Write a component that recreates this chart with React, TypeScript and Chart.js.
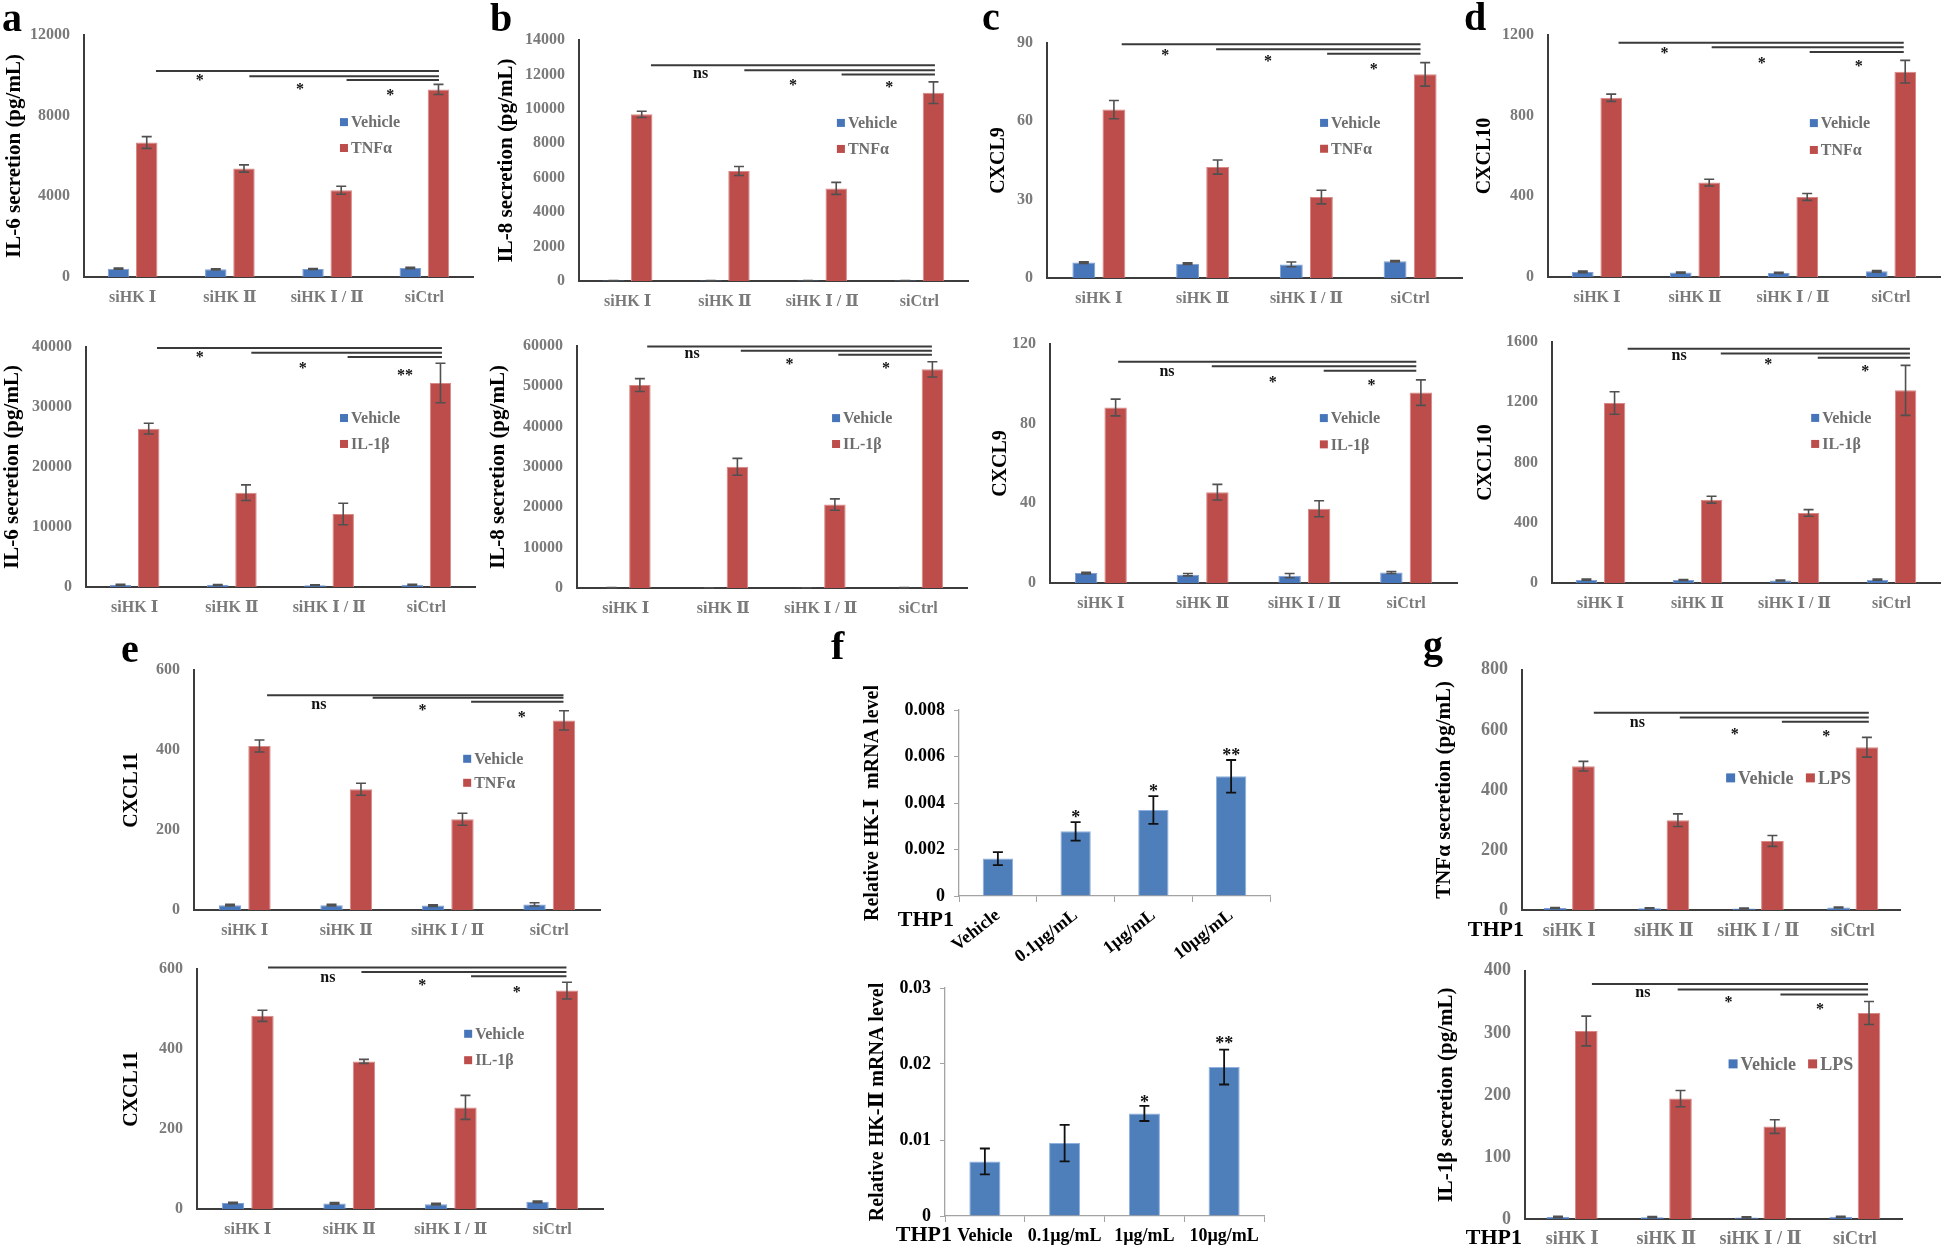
import React, { useEffect, useRef } from "react";
import { Chart, registerables } from "chart.js";

Chart.register(...registerables);

const SERIF = "'Liberation Serif', 'Times New Roman', 'DejaVu Serif', 'Noto Sans CJK SC', serif";

// ---------- categories ----------
const siGroups = ["siHK Ⅰ", "siHK Ⅱ", "siHK Ⅰ / Ⅱ", "siCtrl"];
const doseGroups = ["Vehicle", "0.1µg/mL", "1µg/mL", "10µg/mL"];
const vehicleName = "Vehicle";
const tnfName = "TNFα";
const il1bName = "IL-1β";
const lpsName = "LPS";

// ---------- a: IL-6 ----------
const il6TnfTicks = [0, 4000, 8000, 12000];
const il6TnfVehicle = [414, 380, 397, 447];
const il6TnfVehicleErr = [30, 25, 25, 30];
const il6TnfTreated = [6670, 5380, 4300, 9300];
const il6TnfTreatedErr = [290, 180, 200, 250];
const il6TnfSigLines = [[0.24, 3.15, 10210], [1.2, 3.15, 9960], [2.2, 3.15, 9770]];
const il6TnfSigMarks = [["*", 0.69, 9930], ["*", 1.72, 9520], ["*", 2.65, 9190]];

const il6Il1Ticks = [0, 10000, 20000, 30000, 40000];
const il6Il1Vehicle = [350, 330, 300, 380];
const il6Il1VehicleErr = [80, 60, 60, 80];
const il6Il1Treated = [26390, 15720, 12170, 34000];
const il6Il1TreatedErr = [900, 1300, 1800, 3300];
const il6Il1SigLines = [[0.23, 3.16, 39830], [1.2, 3.16, 39060], [2.19, 3.16, 38330]];
const il6Il1SigMarks = [["*", 0.67, 38890], ["*", 1.73, 37060], ["**", 2.78, 35940]];

// ---------- b: IL-8 ----------
const il8TnfTicks = [0, 2000, 4000, 6000, 8000, 10000, 12000, 14000];
const il8TnfVehicle = [25, 25, 25, 25];
const il8TnfVehicleErr = [5, 5, 5, 5];
const il8TnfTreated = [9680, 6390, 5380, 10940];
const il8TnfTreatedErr = [180, 260, 350, 630];
const il8TnfSigLines = [[0.24, 3.16, 12530], [1.2, 3.16, 12240], [2.2, 3.16, 11990]];
const il8TnfSigMarks = [["ns", 0.75, 12020], ["*", 1.7, 11580], ["*", 2.69, 11480]];

const il8Il1Ticks = [0, 10000, 20000, 30000, 40000, 50000, 60000];
const il8Il1Vehicle = [80, 70, 60, 80];
const il8Il1VehicleErr = [10, 10, 10, 10];
const il8Il1Treated = [50320, 30040, 20690, 54210];
const il8Il1TreatedErr = [1600, 2100, 1400, 1900];
const il8Il1SigLines = [[0.22, 3.14, 59900], [1.18, 3.14, 58840], [2.18, 3.14, 57850]];
const il8Il1SigMarks = [["ns", 0.68, 58000], ["*", 1.68, 56520], ["*", 2.67, 55450]];

// ---------- c: CXCL9 ----------
const cxcl9TnfTicks = [0, 30, 60, 90];
const cxcl9TnfVehicle = [5.9, 5.5, 5.2, 6.4];
const cxcl9TnfVehicleErr = [0.3, 0.3, 0.9, 0.3];
const cxcl9TnfTreated = [64.5, 42.5, 31.0, 78.0];
const cxcl9TnfTreatedErr = [3.5, 2.7, 2.6, 4.5];
const cxcl9TnfSigLines = [[0.22, 3.1, 89.5], [1.13, 3.1, 87.6], [2.2, 3.1, 85.9]];
const cxcl9TnfSigMarks = [["*", 0.64, 86.6], ["*", 1.63, 84.4], ["*", 2.65, 81.4]];

const cxcl9Il1Ticks = [0, 40, 80, 120];
const cxcl9Il1Vehicle = [5.0, 4.2, 3.7, 5.3];
const cxcl9Il1VehicleErr = [0.4, 0.6, 1.1, 0.5];
const cxcl9Il1Treated = [88.1, 45.6, 37.3, 95.6];
const cxcl9Il1TreatedErr = [4.2, 3.9, 4.0, 6.4];
const cxcl9Il1SigLines = [[0.17, 3.1, 111.1], [1.09, 3.1, 108.8], [2.19, 3.1, 106.6]];
const cxcl9Il1SigMarks = [["ns", 0.65, 106.2], ["*", 1.69, 102.8], ["*", 2.66, 101.4]];

// ---------- d: CXCL10 ----------
const cxcl10TnfTicks = [0, 400, 800, 1200];
const cxcl10TnfVehicle = [25, 22, 20, 28];
const cxcl10TnfVehicleErr = [4, 3, 3, 4];
const cxcl10TnfTreated = [889, 468, 397, 1018];
const cxcl10TnfTreatedErr = [18, 17, 17, 56];
const cxcl10TnfSigLines = [[0.22, 3.13, 1162], [1.17, 3.13, 1139], [2.17, 3.13, 1116]];
const cxcl10TnfSigMarks = [["*", 0.69, 1129], ["*", 1.68, 1079], ["*", 2.67, 1064]];

const cxcl10Il1Ticks = [0, 400, 800, 1200, 1600];
const cxcl10Il1Vehicle = [22, 20, 16, 22];
const cxcl10Il1VehicleErr = [4, 3, 3, 4];
const cxcl10Il1Treated = [1195, 553, 465, 1279];
const cxcl10Il1TreatedErr = [75, 23, 22, 166];
const cxcl10Il1SigLines = [[0.28, 3.19, 1556], [1.24, 3.19, 1524], [2.24, 3.19, 1496]];
const cxcl10Il1SigMarks = [["ns", 0.81, 1511], ["*", 1.73, 1478], ["*", 2.73, 1434]];

// ---------- e: CXCL11 ----------
const cxcl11TnfTicks = [0, 200, 400, 600];
const cxcl11TnfVehicle = [12, 12, 11, 14];
const cxcl11TnfVehicleErr = [2, 2, 2, 4];
const cxcl11TnfTreated = [410, 302, 227, 474];
const cxcl11TnfTreatedErr = [15, 15, 15, 24];
const cxcl11TnfSigLines = [[0.22, 3.14, 536.7], [1.26, 3.14, 530.8], [2.23, 3.14, 520.8]];
const cxcl11TnfSigMarks = [["ns", 0.73, 512], ["*", 1.75, 508], ["*", 2.73, 492]];

const cxcl11Il1Ticks = [0, 200, 400, 600];
const cxcl11Il1Vehicle = [15, 14, 12, 18];
const cxcl11Il1VehicleErr = [2, 2, 2, 2];
const cxcl11Il1Treated = [483, 369, 254, 546];
const cxcl11Il1TreatedErr = [14, 5, 30, 21];
const cxcl11Il1SigLines = [[0.2, 3.14, 604], [1.12, 3.14, 592.5], [2.2, 3.14, 581.7]];
const cxcl11Il1SigMarks = [["ns", 0.79, 579], ["*", 1.72, 569], ["*", 2.65, 552]];

// ---------- f: HK mRNA ----------
const hk1Ticks = [0, 0.002, 0.004, 0.006, 0.008];
const hk1Level = [0.00161, 0.00278, 0.0037, 0.00515];
const hk1Err = [0.00028, 0.0004, 0.0006, 0.0007];
const hk1SigMarks = [["*", 1, 0.00356], ["*", 2, 0.00469], ["**", 3, 0.00621]];

const hk2Ticks = [0, 0.01, 0.02, 0.03];
const hk2Level = [0.00718, 0.0096, 0.0135, 0.0196];
const hk2Err = [0.0017, 0.0024, 0.001, 0.0023];
const hk2SigMarks = [["*", 2, 0.0155], ["**", 3, 0.0232]];

// ---------- g: THP1 LPS ----------
const tnfLpsTicks = [0, 200, 400, 600, 800];
const tnfLpsVehicle = [6.5, 6, 5, 8];
const tnfLpsVehicleErr = [1.5, 1.5, 1.5, 1.5];
const tnfLpsTreated = [479, 299, 230, 542];
const tnfLpsTreatedErr = [16, 21, 18, 33];
const tnfLpsSigLines = [[0.26, 3.17, 657], [1.17, 3.17, 641], [2.25, 3.17, 627]];
const tnfLpsSigMarks = [["ns", 0.72, 622], ["*", 1.75, 598], ["*", 2.72, 592]];

const il1LpsTicks = [0, 100, 200, 300, 400];
const il1LpsVehicle = [3.2, 3, 2.5, 3.5];
const il1LpsVehicleErr = [1, 1, 1, 1];
const il1LpsTreated = [303, 194, 149, 332];
const il1LpsTreatedErr = [24, 13, 11, 18.5];
const il1LpsSigLines = [[0.21, 3.14, 378.6], [1.12, 3.14, 370], [2.21, 3.14, 362]];
const il1LpsSigMarks = [["ns", 0.75, 364], ["*", 1.66, 356], ["*", 2.63, 344]];

// ---------- styles ----------
const BLUE = "#4775b9";
const BLUE_EDGE = "#7d9fd3";
const RED = "#bd4d4a";
const RED_EDGE = "#d98886";
const F_BLUE = "#4f7fbb";
const F_BLUE_EDGE = "#8fb1dd";

interface DS { label: string; data: number[]; err: number[]; fill: string; edge: string; }
interface PanelCfg {
  key: string;
  area: number[];
  titleX: number;
  title: string;
  titleSize: number;
  labels: string[];
  datasets: DS[];
  ticks: number[];
  lines: any[];
  marks: any[];
  legend: number[][];
  style: "excel" | "plain";
  fontSize: number;
  markSize: number;
  bottom: number;
  labelPad: number;
  rotate?: number;
  thp1?: number[];
  catPct: number;
  barPct: number;
}

const pair = (treat: string, veh: number[], vehErr: number[], trt: number[], trtErr: number[]): DS[] => [
  { label: vehicleName, data: veh, err: vehErr, fill: BLUE, edge: BLUE_EDGE },
  { label: treat, data: trt, err: trtErr, fill: RED, edge: RED_EDGE },
];

const excelBase = { style: "excel" as const, fontSize: 16, markSize: 16, bottom: 40, labelPad: 11, catPct: 0.58, barPct: 0.76, titleSize: 21 };

const panels: PanelCfg[] = [
  { ...excelBase, key: "a1", area: [84, 35, 473, 277], titleX: 15, title: "IL-6 secretion (pg/mL)", labels: siGroups,
    datasets: pair(tnfName, il6TnfVehicle, il6TnfVehicleErr, il6TnfTreated, il6TnfTreatedErr), ticks: il6TnfTicks,
    lines: il6TnfSigLines, marks: il6TnfSigMarks, legend: [[0.658, 0.36], [0.658, 0.467]] },
  { ...excelBase, key: "a2", area: [86, 347, 475, 587], titleX: 13, title: "IL-6 secretion (pg/mL)", labels: siGroups,
    datasets: pair(il1bName, il6Il1Vehicle, il6Il1VehicleErr, il6Il1Treated, il6Il1TreatedErr), ticks: il6Il1Ticks,
    lines: il6Il1SigLines, marks: il6Il1SigMarks, legend: [[0.653, 0.296], [0.653, 0.404]] },
  { ...excelBase, key: "b1", area: [579, 40, 968, 281], titleX: 507, title: "IL-8 secretion (pg/mL)", labels: siGroups,
    datasets: pair(tnfName, il8TnfVehicle, il8TnfVehicleErr, il8TnfTreated, il8TnfTreatedErr), ticks: il8TnfTicks,
    lines: il8TnfSigLines, marks: il8TnfSigMarks, legend: [[0.663, 0.344], [0.663, 0.452]] },
  { ...excelBase, key: "b2", area: [577, 346, 967, 588], titleX: 499, title: "IL-8 secretion (pg/mL)", labels: siGroups,
    datasets: pair(il1bName, il8Il1Vehicle, il8Il1VehicleErr, il8Il1Treated, il8Il1TreatedErr), ticks: il8Il1Ticks,
    lines: il8Il1SigLines, marks: il8Il1SigMarks, legend: [[0.654, 0.298], [0.654, 0.405]] },
  { ...excelBase, key: "c1", area: [1047, 43, 1462, 278], titleX: 999, titleSize: 20, title: "CXCL9", labels: siGroups,
    datasets: pair(tnfName, cxcl9TnfVehicle, cxcl9TnfVehicleErr, cxcl9TnfTreated, cxcl9TnfTreatedErr), ticks: cxcl9TnfTicks,
    lines: cxcl9TnfSigLines, marks: cxcl9TnfSigMarks, legend: [[0.658, 0.34], [0.658, 0.45]] },
  { ...excelBase, key: "c2", area: [1050, 344, 1457, 583], titleX: 1001, titleSize: 20, title: "CXCL9", labels: siGroups,
    datasets: pair(il1bName, cxcl9Il1Vehicle, cxcl9Il1VehicleErr, cxcl9Il1Treated, cxcl9Il1TreatedErr), ticks: cxcl9Il1Ticks,
    lines: cxcl9Il1SigLines, marks: cxcl9Il1SigMarks, legend: [[0.663, 0.31], [0.663, 0.42]] },
  { ...excelBase, key: "d1", area: [1548, 35, 1940, 277], titleX: 1485, titleSize: 20, title: "CXCL10", labels: siGroups,
    datasets: pair(tnfName, cxcl10TnfVehicle, cxcl10TnfVehicleErr, cxcl10TnfTreated, cxcl10TnfTreatedErr), ticks: cxcl10TnfTicks,
    lines: cxcl10TnfSigLines, marks: cxcl10TnfSigMarks, legend: [[0.668, 0.364], [0.668, 0.475]] },
  { ...excelBase, key: "d2", area: [1552, 342, 1940, 583], titleX: 1486, titleSize: 20, title: "CXCL10", labels: siGroups,
    datasets: pair(il1bName, cxcl10Il1Vehicle, cxcl10Il1VehicleErr, cxcl10Il1Treated, cxcl10Il1TreatedErr), ticks: cxcl10Il1Ticks,
    lines: cxcl10Il1SigLines, marks: cxcl10Il1SigMarks, legend: [[0.668, 0.315], [0.668, 0.423]] },
  { ...excelBase, key: "e1", area: [194, 670, 600, 910], titleX: 132, titleSize: 20, title: "CXCL11", labels: siGroups,
    datasets: pair(tnfName, cxcl11TnfVehicle, cxcl11TnfVehicleErr, cxcl11TnfTreated, cxcl11TnfTreatedErr), ticks: cxcl11TnfTicks,
    lines: cxcl11TnfSigLines, marks: cxcl11TnfSigMarks, legend: [[0.663, 0.37], [0.663, 0.47]] },
  { ...excelBase, key: "e2", area: [197, 969, 603, 1209], titleX: 132, titleSize: 20, title: "CXCL11", labels: siGroups,
    datasets: pair(il1bName, cxcl11Il1Vehicle, cxcl11Il1VehicleErr, cxcl11Il1Treated, cxcl11Il1TreatedErr), ticks: cxcl11Il1Ticks,
    lines: cxcl11Il1SigLines, marks: cxcl11Il1SigMarks, legend: [[0.658, 0.27], [0.658, 0.38]] },
  { style: "plain", fontSize: 18, markSize: 18, bottom: 80, labelPad: 3, catPct: 0.5, barPct: 0.78, titleSize: 20, rotate: 38,
    key: "f1", area: [959, 710, 1270, 896], titleX: 873, title: "Relative HK-Ⅰ  mRNA level", labels: doseGroups,
    datasets: [{ label: vehicleName, data: hk1Level, err: hk1Err, fill: F_BLUE, edge: F_BLUE_EDGE }], ticks: hk1Ticks,
    lines: [], marks: hk1SigMarks, legend: [], thp1: [-5, 24] },
  { style: "plain", fontSize: 18, markSize: 18, bottom: 36, labelPad: 4, catPct: 0.5, barPct: 0.78, titleSize: 20,
    key: "f2", area: [945, 988, 1264, 1216], titleX: 878, title: "Relative HK-Ⅱ mRNA level", labels: doseGroups,
    datasets: [{ label: vehicleName, data: hk2Level, err: hk2Err, fill: F_BLUE, edge: F_BLUE_EDGE }], ticks: hk2Ticks,
    lines: [], marks: hk2SigMarks, legend: [], thp1: [7, 19] },
  { ...excelBase, fontSize: 18, bottom: 40, labelPad: 11, catPct: 0.6, barPct: 0.8, titleSize: 21,
    key: "g1", area: [1522, 669, 1900, 910], titleX: 1445, title: "TNFα secretion (pg/mL)", labels: siGroups,
    datasets: pair(lpsName, tnfLpsVehicle, tnfLpsVehicleErr, tnfLpsTreated, tnfLpsTreatedErr), ticks: tnfLpsTicks,
    lines: tnfLpsSigLines, marks: tnfLpsSigMarks, legend: [[0.54, 0.45], [0.751, 0.45]], thp1: [2, 20] },
  { ...excelBase, fontSize: 18, bottom: 40, labelPad: 10, catPct: 0.6, barPct: 0.8, titleSize: 21,
    key: "g2", area: [1525, 970, 1902, 1219], titleX: 1447, title: "IL-1β secretion (pg/mL)", labels: siGroups,
    datasets: pair(lpsName, il1LpsVehicle, il1LpsVehicleErr, il1LpsTreated, il1LpsTreatedErr), ticks: il1LpsTicks,
    lines: il1LpsSigLines, marks: il1LpsSigMarks, legend: [[0.54, 0.375], [0.751, 0.375]], thp1: [-3, 19] },
];

const letters: [string, number, number][] = [
  ["a", 2, 32], ["b", 490, 32], ["c", 982, 31], ["d", 1464, 31],
  ["e", 121, 663], ["f", 831, 660], ["g", 1423, 659],
];

function makeExtras(cfg: PanelCfg) {
  return {
    id: "extras_" + cfg.key,
    afterDatasetsDraw(chart: any) {
      const ctx = chart.ctx as CanvasRenderingContext2D;
      const xs = chart.scales.x;
      const ys = chart.scales.y;
      const area = chart.chartArea;
      const excel = cfg.style === "excel";
      ctx.save();
      // error bars
      chart.data.datasets.forEach((ds: any, di: number) => {
        const meta = chart.getDatasetMeta(di);
        const err = cfg.datasets[di].err;
        meta.data.forEach((el: any, i: number) => {
          const v = ds.data[i];
          const e = err[i];
          const y1 = ys.getPixelForValue(v + e);
          const y2 = ys.getPixelForValue(Math.max(0, v - e));
          const cap = 5;
          ctx.strokeStyle = excel ? "#505050" : "#111";
          ctx.lineWidth = excel ? 1.6 : 1.8;
          ctx.beginPath();
          ctx.moveTo(el.x, y1); ctx.lineTo(el.x, y2);
          ctx.moveTo(el.x - cap, y1); ctx.lineTo(el.x + cap, y1);
          ctx.moveTo(el.x - cap, y2); ctx.lineTo(el.x + cap, y2);
          ctx.stroke();
        });
      });
      // significance lines
      ctx.strokeStyle = "#3a3a3a";
      ctx.lineWidth = 2;
      cfg.lines.forEach((ln: number[]) => {
        const y = ys.getPixelForValue(ln[2]);
        ctx.beginPath();
        ctx.moveTo(xs.getPixelForValue(ln[0]), y);
        ctx.lineTo(xs.getPixelForValue(ln[1]), y);
        ctx.stroke();
      });
      // significance marks
      ctx.fillStyle = "#111";
      ctx.textAlign = "center";
      ctx.textBaseline = "middle";
      cfg.marks.forEach((m: any[]) => {
        const t = String(m[0]);
        const star = t.includes("*");
        ctx.font = `bold ${cfg.markSize}px ${SERIF}`;
        ctx.fillText(t, xs.getPixelForValue(m[1]), ys.getPixelForValue(m[2]) + (star ? cfg.markSize * 0.28 : 0));
      });
      // legend
      cfg.legend.forEach((pos: number[], i: number) => {
        const ds = cfg.datasets[i];
        const sx = area.left + pos[0] * (area.right - area.left);
        const sy = area.top + pos[1] * (area.bottom - area.top);
        const sq = Math.round(cfg.fontSize * 0.5);
        ctx.fillStyle = ds.fill;
        ctx.fillRect(sx, sy - sq / 2, sq, sq);
        ctx.fillStyle = "#6e6e6e";
        ctx.font = `bold ${cfg.fontSize}px ${SERIF}`;
        ctx.textAlign = "left";
        ctx.textBaseline = "middle";
        ctx.fillText(ds.label, sx + sq + 3, sy + 1);
      });
      // THP1 label
      if (cfg.thp1) {
        ctx.fillStyle = "#000";
        ctx.font = `bold 22px ${SERIF}`;
        ctx.textAlign = "right";
        ctx.textBaseline = "middle";
        ctx.fillText("THP1", area.left + cfg.thp1[0], area.bottom + cfg.thp1[1]);
      }
      ctx.restore();
    },
  };
}

function Panel({ cfg }: { cfg: PanelCfg }) {
  const ref = useRef<HTMLCanvasElement>(null);
  const [L, T, R, B] = cfg.area;
  const lh = cfg.titleSize * 1.2;
  const cLeft = Math.round(cfg.titleX - lh / 2);
  const padTop = 24;
  const padRight = 5;
  const cTop = T - padTop;
  const width = R + padRight - cLeft;
  const height = B + cfg.bottom - cTop;
  const excel = cfg.style === "excel";

  useEffect(() => {
    const canvas = ref.current;
    if (!canvas) return;
    const tickColor = excel ? "#7a7a7a" : "#000";
    const axisColor = excel ? "#3c3c3c" : "#a3a3a3";
    const chart = new Chart(canvas, {
      type: "bar",
      data: {
        labels: cfg.labels,
        datasets: cfg.datasets.map((d) => ({
          label: d.label,
          data: d.data,
          backgroundColor: d.fill,
          borderColor: d.edge,
          borderWidth: 1,
          categoryPercentage: cfg.catPct,
          barPercentage: cfg.barPct,
        })),
      },
      options: {
        responsive: false,
        animation: false,
        devicePixelRatio: 1,
        events: [],
        layout: { padding: { left: 0, top: padTop, right: padRight, bottom: 0 } },
        plugins: { legend: { display: false }, tooltip: { enabled: false } },
        scales: {
          x: {
            type: "category",
            grid: excel
              ? { display: false, drawTicks: false }
              : { display: true, drawOnChartArea: false, drawTicks: true, tickLength: 6, color: axisColor, offset: true },
            border: { display: true, color: axisColor, width: excel ? 2 : 1.3 },
            ticks: {
              autoSkip: false,
              maxRotation: cfg.rotate || 0,
              minRotation: cfg.rotate || 0,
              padding: cfg.labelPad,
              color: tickColor,
              font: { family: SERIF, size: cfg.fontSize, weight: "bold" },
            },
            afterFit: (s: any) => { s.height = cfg.bottom; },
          },
          y: {
            min: cfg.ticks[0],
            max: cfg.ticks[cfg.ticks.length - 1],
            grid: excel
              ? { display: false, drawTicks: false }
              : { display: true, drawOnChartArea: false, drawTicks: true, tickLength: 5, color: axisColor },
            border: { display: true, color: axisColor, width: excel ? 2 : 1.3 },
            ticks: {
              stepSize: cfg.ticks[1] - cfg.ticks[0],
              padding: excel ? 14 : 9,
              color: tickColor,
              font: { family: SERIF, size: cfg.fontSize, weight: "bold" },
              callback: (v: any) => String(parseFloat(Number(v).toFixed(4))),
            },
            title: {
              display: true,
              text: cfg.title,
              color: "#000",
              padding: 0,
              font: { family: SERIF, size: cfg.titleSize, weight: "bold" },
            },
            afterFit: (s: any) => { s.width = L - cLeft; },
          },
        },
      } as any,
      plugins: [makeExtras(cfg)],
    });
    return () => chart.destroy();
  }, []);

  return (
    <canvas
      ref={ref}
      width={width}
      height={height}
      style={{ position: "absolute", left: cLeft, top: cTop, width, height }}
    />
  );
}

export default function App() {
  return (
    <div style={{ position: "absolute", left: 0, top: 0, width: 1946, height: 1253, overflow: "hidden", background: "#fff" }}>
      {panels.map((p) => (
        <Panel key={p.key} cfg={p} />
      ))}
      {letters.map(([t, x, y]) => (
        <div
          key={t}
          style={{
            position: "absolute",
            left: x,
            top: y - 34,
            fontFamily: SERIF,
            fontWeight: "bold",
            fontSize: 40,
            lineHeight: "40px",
            color: "#000",
          }}
        >
          {t}
        </div>
      ))}
    </div>
  );
}
